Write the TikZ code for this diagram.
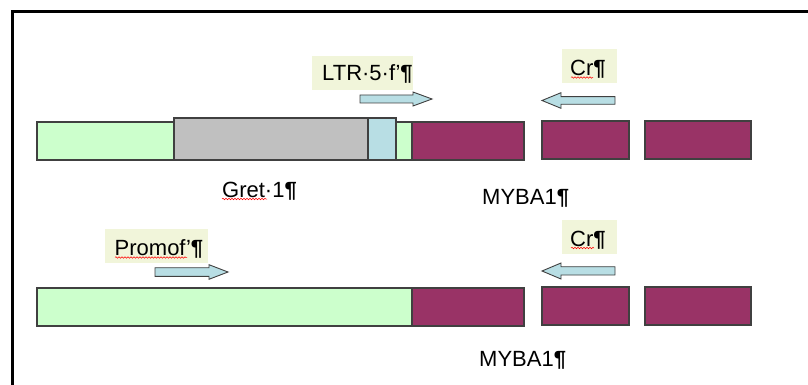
\documentclass[tikz,border=0pt]{standalone}
\usepackage{fontspec}
\setmainfont{Liberation Sans}
\usetikzlibrary{decorations.pathmorphing}
\definecolor{lgreen}{HTML}{CCFFCC}
\definecolor{lgray}{HTML}{C0C0C0}
\definecolor{lblue}{HTML}{B8DEE4}
\definecolor{maroon}{HTML}{993366}
\definecolor{lyellow}{HTML}{F1F5DA}
\definecolor{edgec}{HTML}{404040}
\newcommand{\pilc}{{\bfseries ¶}}
\begin{document}
\begin{tikzpicture}[x=1pt,y=-1pt,
  seg/.style={draw=edgec, line width=1.1pt, inner sep=0pt, outer sep=0pt, anchor=north west},
  lab/.style={fill=lyellow, inner sep=0pt, outer sep=0pt, anchor=north west},
  txt/.style={inner sep=0pt, anchor=base west, font=\fontsize{22}{26}\selectfont},
  blockarrow/.style={fill=lblue, draw=edgec, line width=0.9pt, line join=miter},
  wavy/.style={draw=red, line width=0.5pt, decorate, decoration={snake, segment length=3pt, amplitude=0.8pt}},
  frame/.style={line width=3pt, draw=black}]
\useasboundingbox (0,0) rectangle (808,385);
% frame
\coordinate (fc) at (12,11.7);
\coordinate (fr) at (808,11.7);
\coordinate (fb) at (12,385);
\draw[frame] (fr) -- (fc) -- (fb);
% top row
\node[seg, fill=lgreen, minimum width=137pt, minimum height=38pt] (g1) at (37,122) {};
\node[seg, fill=lgreen, minimum width=16pt, minimum height=38pt] (g2) at (396,122) {};
\node[seg, fill=lgray, minimum width=194pt, minimum height=42pt] (gret) at (174,118) {};
\node[seg, fill=lblue, minimum width=28pt, minimum height=42pt] (ltr) at (368,118) {};
\node[seg, fill=maroon, minimum width=112pt, minimum height=38pt] (m1) at (412,122) {};
\node[seg, fill=maroon, minimum width=87pt, minimum height=38pt] (m2) at (542,121) {};
\node[seg, fill=maroon, minimum width=106pt, minimum height=38pt] (m3) at (645,121) {};
% bottom row
\node[seg, fill=lgreen, minimum width=375pt, minimum height=38pt] (p1) at (37,288) {};
\node[seg, fill=maroon, minimum width=112pt, minimum height=38pt] (n1) at (412,288) {};
\node[seg, fill=maroon, minimum width=87pt, minimum height=38pt] (n2) at (542,287) {};
\node[seg, fill=maroon, minimum width=106pt, minimum height=38pt] (n3) at (645,287) {};
% label boxes
\node[lab, minimum width=101pt, minimum height=34pt] (ltrlab) at (312,56) {};
\node[lab, minimum width=55pt, minimum height=34pt] (crlab1) at (562,49) {};
\node[lab, minimum width=103pt, minimum height=34pt] (promlab) at (105,229) {};
\node[lab, minimum width=55pt, minimum height=34pt] (crlab2) at (562,220) {};
% label texts
\node[txt] (ltrtxt) at (322,81) {LTR·5·f’\pilc};
\node[txt] (crtxt1) at (570,76) {Cr\pilc};
\node[txt] (promtxt) at (114.5,255) {Promof’\pilc};
\node[txt] (crtxt2) at (570,246.5) {Cr\pilc};
\node[txt] (grettxt) at (222,197) {Gret·1\pilc};
\node[txt] (mybatxt1) at (482,204) {MYBA1\pilc};
\node[txt] (mybatxt2) at (479,366.5) {MYBA1\pilc};
% wavy underlines
\draw[wavy] (222,199) -- (267,199);
\draw[wavy] (571,77.5) -- (593,77.5);
\draw[wavy] (115,257.5) -- (187,257.5);
\draw[wavy] (571,248) -- (594,248);
% block arrows
\draw[blockarrow] (360,95) -- (413,95) -- (413,92) -- (432,99) -- (413,106) -- (413,103) -- (360,103) -- cycle;
\draw[blockarrow] (615,96.7) -- (561,96.7) -- (561,92.7) -- (542,100.5) -- (561,108.3) -- (561,104.3) -- (615,104.3) -- cycle;
\draw[blockarrow] (155,267.7) -- (209,267.7) -- (209,264.7) -- (228,272) -- (209,279.3) -- (209,276.3) -- (155,276.3) -- cycle;
\draw[blockarrow] (615,266.7) -- (561,266.7) -- (561,263) -- (542,271) -- (561,279) -- (561,275) -- (615,275) -- cycle;
\end{tikzpicture}
\end{document}
